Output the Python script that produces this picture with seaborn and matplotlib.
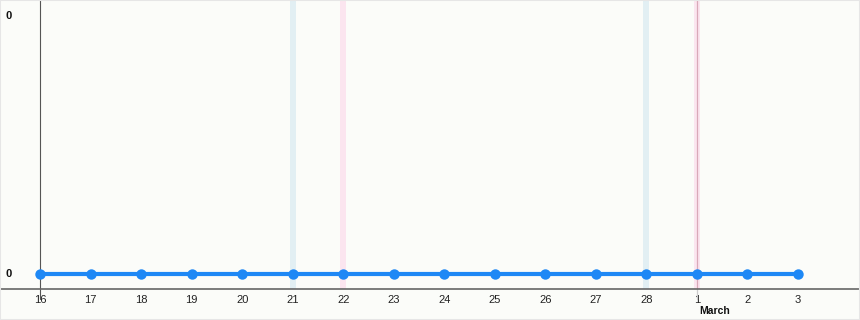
import matplotlib
matplotlib.use("Agg")
import matplotlib.pyplot as plt
import matplotlib.transforms as mtransforms
import seaborn as sns
import pandas as pd
import numpy as np

days = ["16", "17", "18", "19", "20", "21", "22", "23", "24", "25", "26", "27", "28", "1", "2", "3"]
values = [0, 0, 0, 0, 0, 0, 0, 0, 0, 0, 0, 0, 0, 0, 0, 0]
blue_band_days = ["21", "28"]
pink_band_days = ["22", "1"]
marker_line_day = "1"
month_label = "March"
month_label_day = "1"
y_tick_values = [0, 1]
y_tick_labels = ["0", "0"]

sns.set_theme(style="white")
plt.rcParams["font.family"] = ["Liberation Sans", "DejaVu Sans"]

W, H = 860, 320
fig = plt.figure(figsize=(W / 100, H / 100), dpi=100)
bg = "#fbfcf9"
fig.patch.set_facecolor(bg)

ax_bottom_px = 289
ax = fig.add_axes([0, 1 - ax_bottom_px / H, 1, ax_bottom_px / H])
ax.set_facecolor(bg)

df = pd.DataFrame({"idx": np.arange(len(days)), "day": days, "value": values})

# geometry (pixels)
x0_px = 40.0
step_px = (798 - 40) / 15.0
xmin = -x0_px / step_px
xmax = (W - x0_px) / step_px
ax.set_xlim(xmin, xmax)
zero_px = 274
one_px = 16
unit = (zero_px - one_px)
ymin = -(ax_bottom_px - zero_px) / unit
ymax = 1 + one_px / unit
ax.set_ylim(ymin, ymax)

band_w = 6 / step_px
for d in blue_band_days:
    i = days.index(d)
    ax.axvspan(i - band_w / 2, i + band_w / 2, color="#e2eff3", zorder=0, lw=0)
for d in pink_band_days:
    i = days.index(d)
    ax.axvspan(i - band_w / 2, i + band_w / 2, color="#fbe5ef", zorder=0, lw=0)
i = days.index(marker_line_day)
ax.axvline(i, color="#d9a9b8", lw=0.9, zorder=1)
ax.axvline(i, ymin=-10 / ax_bottom_px, ymax=0, color="#cccccc", lw=0.9, clip_on=False)

# y axis line at first day
ax.axvline(0, color="#555555", lw=0.8, zorder=2)
ax.axvline(0, ymin=-10 / ax_bottom_px, ymax=0, color="#555555", lw=0.8, clip_on=False)

sns.lineplot(data=df, x="idx", y="value", ax=ax, color="#1e88f5", lw=3,
             marker="o", markersize=7.5, markeredgewidth=0, zorder=3)

for s in ["top", "right", "left"]:
    ax.spines[s].set_visible(False)
ax.spines["bottom"].set_color("#666666")
ax.spines["bottom"].set_linewidth(1.2)

ax.set_xticks(df["idx"])
ax.set_xticklabels(days, fontsize=8, color="#222222")
ax.tick_params(axis="x", length=0, pad=4)
ax.set_yticks([])
ax.set_xlabel("")
ax.set_ylabel("")

trans = mtransforms.blended_transform_factory(fig.transFigure, ax.transData)
for v, lab in zip(y_tick_values, y_tick_labels):
    ax.text(5 / W, v, lab, transform=trans, fontsize=8, fontweight="bold",
            color="#111111", ha="left", va="center")

mi = days.index(month_label_day)
trans2 = mtransforms.blended_transform_factory(ax.transData, fig.transFigure)
ax.text(mi + 2 / step_px, 1 - 311 / H, month_label, transform=trans2, fontsize=7.5,
        fontweight="bold", color="#111111", ha="left", va="center")

# faint frame
fig.patches.append(plt.Rectangle((0, 0), 1, 1, transform=fig.transFigure, fill=False,
                                 edgecolor="#e6e6e6", lw=1.5))

fig.savefig("out.png", dpi=100, facecolor=bg)
